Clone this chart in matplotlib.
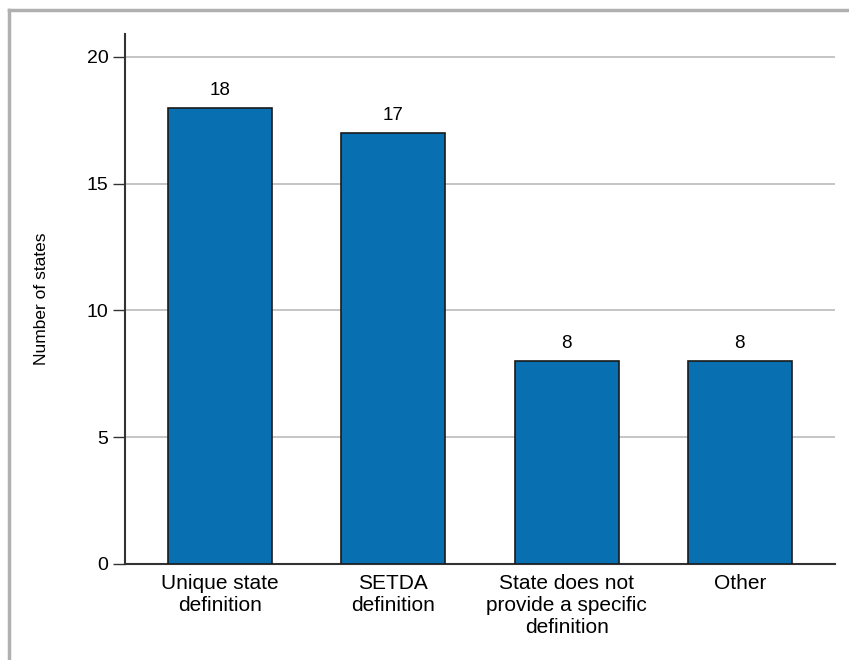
import matplotlib.pyplot as plt
from matplotlib.lines import Line2D

categories = ["Unique state\ndefinition", "SETDA\ndefinition",
              "State does not\nprovide a specific\ndefinition", "Other"]
counts = [18, 17, 8, 8]
yticks = [0, 5, 10, 15, 20]

plt.rcParams['font.family'] = ['Liberation Sans', 'DejaVu Sans']

fig = plt.figure(figsize=(8.49, 6.6), dpi=100)
ax = fig.add_axes([0.1472, 0.1455, 0.8363, 0.803])

x = range(len(categories))
bars = ax.bar(x, counts, width=0.6, color='#0870b0', edgecolor='#1a1a1a',
              linewidth=1.2, zorder=3)
for b, v in zip(bars, counts):
    ax.text(b.get_x() + b.get_width() / 2, v + 0.35, str(v),
            ha='center', va='bottom', fontsize=13.5)

ax.set_xlim(-0.55, 3.55)
ax.set_ylim(0, 20.9)
ax.set_yticks(yticks)
ax.set_xticks(list(x))
ax.set_xticklabels(categories, fontsize=15, linespacing=1.22)
ax.tick_params(axis='x', length=0, pad=7)
ax.tick_params(axis='y', length=9, width=1, color='#333333', labelsize=14, pad=3)
ax.yaxis.grid(True, color='#bbbbbb', linewidth=1.2, zorder=0)
ax.set_axisbelow(True)
for s in ['top', 'right']:
    ax.spines[s].set_visible(False)
for s in ['left', 'bottom']:
    ax.spines[s].set_color('#333333')
    ax.spines[s].set_linewidth(1.5)
ax.set_ylabel("Number of states", fontsize=12.5, labelpad=27)

# outer frame of the figure panel
fig.add_artist(Line2D([9 / 849, 9 / 849], [0, 1 - 10 / 660],
                      color='#b0b0b0', linewidth=2.5))
fig.add_artist(Line2D([9 / 849, 1], [1 - 10 / 660, 1 - 10 / 660],
                      color='#b0b0b0', linewidth=2.5))

fig.savefig("out.png", dpi=100)
